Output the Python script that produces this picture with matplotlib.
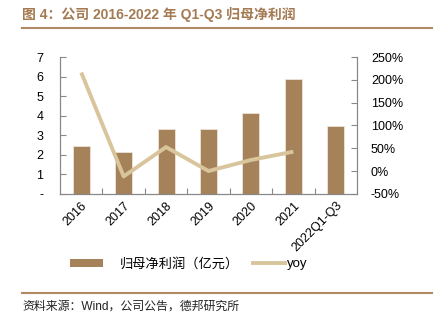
import matplotlib
matplotlib.use("Agg")
import matplotlib.pyplot as plt
from matplotlib.lines import Line2D
from matplotlib.patches import Patch

plt.rcParams['font.family'] = ['Liberation Sans', 'Noto Sans CJK SC', 'DejaVu Sans']

categories = ['2016', '2017', '2018', '2019', '2020', '2021', '2022Q1-Q3']
profit = [2.44, 2.16, 3.30, 3.31, 4.12, 5.88, 3.49]
yoy = [216, -11.5, 52.8, 0.3, 24.5, 42.7]
left_ticks = [0, 1, 2, 3, 4, 5, 6, 7]
left_labels = ['-', '1', '2', '3', '4', '5', '6', '7']
right_ticks = [-50, 0, 50, 100, 150, 200, 250]
right_labels = ['-50%', '0%', '50%', '100%', '150%', '200%', '250%']

bar_color = '#A6825A'
line_color = '#D8C59C'
brown = '#A47A52'
axis_color = '#888888'

fig = plt.figure(figsize=(4.38, 3.28), dpi=100)
ax = fig.add_axes([60/438, 1-194/328, 297/438, 137/328])
x = list(range(len(categories)))
ax.bar(x, profit, width=0.4, color=bar_color, edgecolor='#EDE3D6', linewidth=0.6, zorder=2)
ax.set_xlim(-0.5, 6.5)
ax.set_ylim(0, 7)
ax.set_yticks(left_ticks)
ax.set_yticklabels(left_labels, fontsize=9)
ax.set_xticks([i + 0.5 for i in x[:-1]], minor=False)
ax.set_xticklabels([])
ax.set_xticks(x, minor=True)
ax.set_xticklabels(categories, minor=True, rotation=45, ha='right', rotation_mode='anchor', fontsize=9)
ax.tick_params(axis='x', which='minor', length=0, pad=4)
ax.tick_params(axis='x', which='major', direction='in', length=4, color=axis_color)
ax.tick_params(axis='y', direction='in', length=4, color=axis_color, pad=12)
ax.spines['top'].set_visible(False)
for s in ['left', 'bottom', 'right']:
    ax.spines[s].set_color(axis_color)
    ax.spines[s].set_linewidth(0.8)

ax2 = ax.twinx()
ax2.plot(x[:len(yoy)], yoy, color=line_color, linewidth=2.8, solid_capstyle='butt', zorder=3)
ax2.set_ylim(-50, 250)
ax2.set_yticks(right_ticks)
ax2.set_yticklabels(right_labels, fontsize=9)
ax2.tick_params(axis='y', direction='in', length=4, color=axis_color, pad=10)
ax2.spines['top'].set_visible(False)
for s in ['left', 'bottom', 'right']:
    ax2.spines[s].set_color(axis_color)
    ax2.spines[s].set_linewidth(0.8)

prop = {'family': ['Liberation Sans', 'Noto Sans CJK SC'], 'size': 9.5}
leg1 = fig.legend([Patch(facecolor=bar_color, edgecolor='none')], ['归母净利润（亿元）'],
                  loc='center left', bbox_to_anchor=(70/438, 1-264/328), frameon=False,
                  handlelength=2.5, handleheight=0.6, handletextpad=1.3,
                  borderpad=0, borderaxespad=0, prop=prop)
leg2 = fig.legend([Line2D([0], [0], color=line_color, linewidth=2.8)], ['yoy'],
                  loc='center left', bbox_to_anchor=(253/438, 1-264/328), frameon=False,
                  handlelength=2.4, handletextpad=0.15,
                  borderpad=0, borderaxespad=0, prop=prop)

fig.text(22/438, 1-14/328, '图 4：公司 2016-2022 年 Q1-Q3 归母净利润', fontsize=10, fontweight='bold',
         color=brown, va='center', ha='left', family=['Liberation Sans', 'Noto Sans CJK SC'])
fig.add_artist(Line2D([22/438, 1-6/438], [1-28/328, 1-28/328], color='#B08A63', linewidth=1.5))
fig.add_artist(Line2D([22/438, 1-6/438], [1-293/328, 1-293/328], color='#B08A63', linewidth=1.5))
fig.text(22/438, 1-307/328, '资料来源：Wind，公司公告，德邦研究所', fontsize=8.6,
         color='#222222', va='center', ha='left', family=['Liberation Sans', 'Noto Sans CJK SC'])

fig.savefig('out.png', dpi=100)
